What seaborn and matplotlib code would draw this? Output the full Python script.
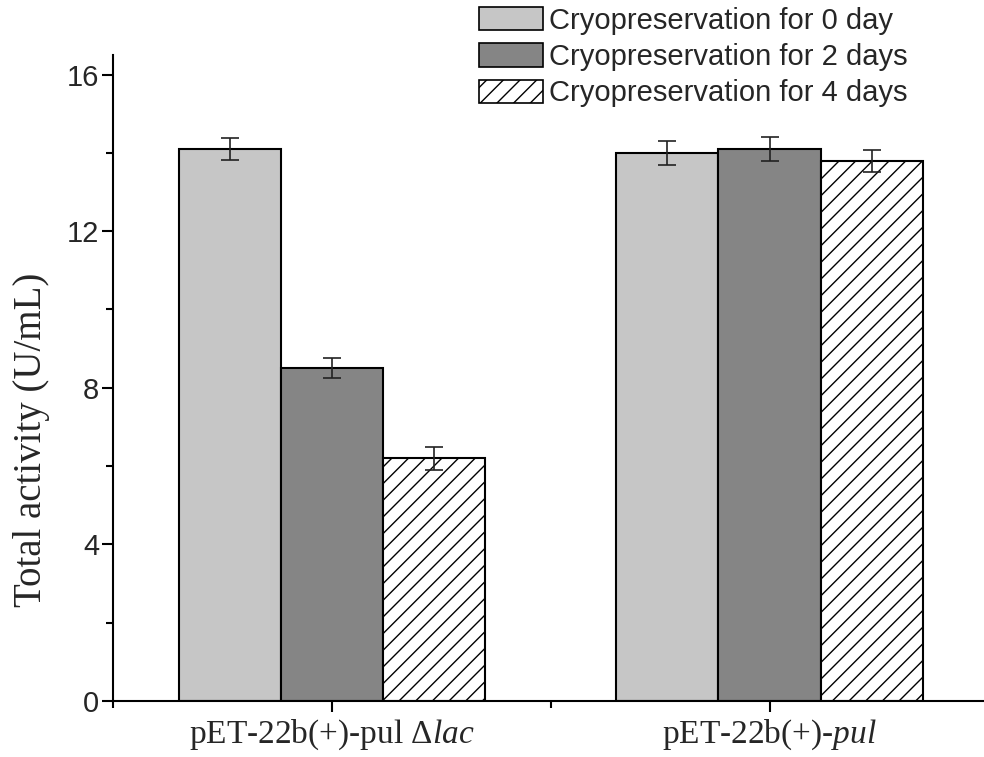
import pandas as pd
import matplotlib
matplotlib.use('Agg')
import matplotlib.pyplot as plt
import seaborn as sns
from matplotlib.patches import Patch
from matplotlib.ticker import MultipleLocator

strains = ['pET-22b(+)-pul Δ$\\mathit{lac}$', 'pET-22b(+)-$\\mathit{pul}$']
conditions = ['Cryopreservation for 0 day', 'Cryopreservation for 2 days', 'Cryopreservation for 4 days']
day0 = [14.1, 14.0]
day2 = [8.5, 14.1]
day4 = [6.2, 13.8]
err0 = [0.27, 0.30]
err2 = [0.25, 0.30]
err4 = [0.30, 0.28]

data = pd.DataFrame({
    'strain': strains * 3,
    'condition': [c for c in conditions for _ in strains],
    'activity': day0 + day2 + day4,
    'err': err0 + err2 + err4,
})

sns.set_theme(style='ticks')
plt.rcParams['font.family'] = ['Liberation Sans', 'DejaVu Sans']
plt.rcParams['mathtext.fontset'] = 'custom'
plt.rcParams['mathtext.rm'] = 'Liberation Serif'
plt.rcParams['mathtext.it'] = 'Liberation Serif:italic'
plt.rcParams['hatch.linewidth'] = 1.0

fig = plt.figure(figsize=(9.84, 7.57), dpi=100)
ax = fig.add_axes([113 / 984, 1 - 701 / 757, 1 - 113 / 984, (701 - 55) / 757])

palette = ['#c6c6c6', '#858585', '#ffffff']
sns.barplot(data=data, x='strain', y='activity', hue='condition', hue_order=conditions,
            palette=palette, width=0.7, gap=0, saturation=1, errorbar=None,
            edgecolor='black', linewidth=1.5, legend=False, ax=ax)

# hatch the 4-day bars and add error bars at bar centres
n = len(strains)
for i, cond in enumerate(conditions):
    sub = data[data['condition'] == cond]
    bars = ax.patches[i * n:(i + 1) * n]
    xs = [b.get_x() + b.get_width() / 2 for b in bars]
    if i == 2:
        for b in bars:
            b.set_hatch('//')
    ax.errorbar(xs, sub['activity'], yerr=sub['err'], fmt='none', ecolor='#222222',
                elinewidth=1.2, capsize=6.5, capthick=1.2, zorder=5)

ax.set_xlim(-0.5, 1.49)
ax.set_ylim(0, 16.5)
ax.yaxis.set_major_locator(MultipleLocator(4))
ax.yaxis.set_minor_locator(MultipleLocator(2))
ax.xaxis.set_minor_locator(MultipleLocator(0.5))
ax.xaxis.set_minor_formatter(plt.NullFormatter())
sns.despine(ax=ax)
for s in ['left', 'bottom']:
    ax.spines[s].set_linewidth(1.5)
    ax.spines[s].set_color('black')
ax.tick_params(which='major', length=8, width=1.5, color='black', labelsize=21)
ax.tick_params(axis='y', pad=2)
ax.tick_params(which='minor', length=5, width=1.5, color='black')
ax.tick_params(axis='x', labelsize=24, pad=4)
for lab in ax.get_xticklabels():
    lab.set_fontfamily('Liberation Serif')

ax.set_xlabel('')
ax.set_ylabel('Total activity (U/mL)', fontsize=28, family='Liberation Serif')
ax.yaxis.set_label_coords(-0.072, 0.405)

handles = [Patch(facecolor=palette[0], edgecolor='black', linewidth=1.2),
           Patch(facecolor=palette[1], edgecolor='black', linewidth=1.2),
           Patch(facecolor='white', edgecolor='black', linewidth=1.2, hatch='//')]
fig.legend(handles, conditions, loc='upper left', bbox_to_anchor=(476 / 984, 1 - 4 / 757),
           frameon=False, fontsize=21, handlelength=2.2, handleheight=0.85,
           handletextpad=0.2, labelspacing=0.28, borderpad=0.1, borderaxespad=0)

fig.savefig('out.png', dpi=100)
